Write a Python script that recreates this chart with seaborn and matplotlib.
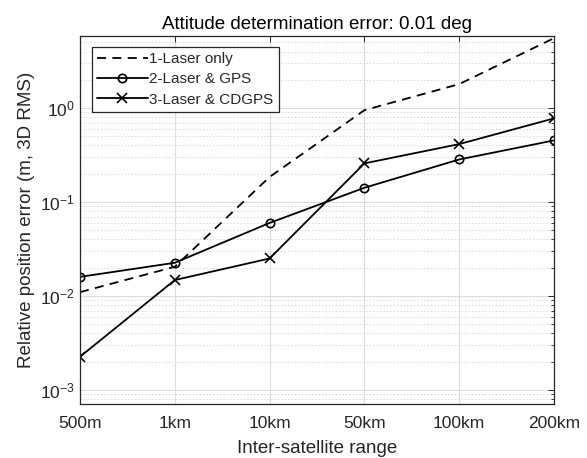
import matplotlib
matplotlib.use("Agg")
import matplotlib.pyplot as plt
import seaborn as sns
import numpy as np
import pandas as pd
from matplotlib.ticker import LogLocator, NullFormatter

categories = ["500m", "1km", "10km", "50km", "100km", "200km"]
laser_only = [0.011, 0.0205, 0.185, 0.95, 1.8, 5.55]
laser_gps = [0.016, 0.0226, 0.060, 0.142, 0.284, 0.453]
laser_cdgps = [0.00226, 0.0148, 0.0251, 0.258, 0.414, 0.777]
series_names = ["1-Laser only", "2-Laser & GPS", "3-Laser & CDGPS"]

sns.set_style("white")
plt.rcParams['font.family'] = ['Liberation Sans', 'DejaVu Sans']

x = np.arange(1, len(categories) + 1)
df = pd.DataFrame({
    "x": np.tile(x, 3),
    "y": laser_only + laser_gps + laser_cdgps,
    "series": np.repeat(series_names, len(categories)),
})

fig = plt.figure(figsize=(5.87, 4.58), dpi=100)
ax = fig.add_axes([80/587, 1 - 404/458, (554-80)/587, (404-36)/458])

styles = {
    "1-Laser only": dict(linestyle=(0, (5, 3.5)), marker=None, ms=7),
    "2-Laser & GPS": dict(linestyle="-", marker="o", ms=6),
    "3-Laser & CDGPS": dict(linestyle="-", marker="x", ms=7.5),
}
for name in series_names:
    sub = df[df["series"] == name]
    st = styles[name]
    sns.lineplot(data=sub, x="x", y="y", ax=ax, color="black", linewidth=1.3,
                 linestyle=st["linestyle"], marker=st["marker"],
                 markersize=st["ms"], markerfacecolor="none", markeredgecolor="black",
                 markeredgewidth=1.2, label=name)

ax.set_yscale("log")
ax.set_xlim(1, 6)
ax.set_ylim(7.1e-4, 5.85)
ax.set_xticks(x)
ax.set_xticklabels(categories)
ax.yaxis.set_major_locator(LogLocator(base=10, numticks=10))
ax.yaxis.set_minor_locator(LogLocator(base=10, subs=np.arange(2, 10), numticks=20))
ax.yaxis.set_minor_formatter(NullFormatter())

ax.grid(True, which="major", color="#dcdcdc", linewidth=0.8, linestyle="-")
ax.grid(True, which="minor", axis="y", color="#d8d8d8", linewidth=0.7, linestyle=(0, (1.5, 2)))
ax.set_axisbelow(True)

edge = "#262626"
for sp in ax.spines.values():
    sp.set_color(edge)
    sp.set_linewidth(0.9)
ax.tick_params(which="both", direction="in", top=True, right=True, colors=edge,
               labelcolor="#262626", labelsize=12.5)
ax.tick_params(which="major", length=4, width=0.7)
ax.tick_params(which="minor", length=2, width=0.6)
ax.tick_params(axis="x", pad=9)

ax.set_xlabel("Inter-satellite range", fontsize=13.5, color="#262626", labelpad=6)
ax.set_ylabel("Relative position error (m, 3D RMS)", fontsize=13.5, color="#262626", labelpad=4)
ax.set_title("Attitude determination error: 0.01 deg", fontsize=13.5, color="black", pad=5)

leg = ax.legend(loc="upper left", fontsize=11, frameon=True, fancybox=False,
                edgecolor="#262626", framealpha=1, handlelength=3.3,
                handletextpad=0.1, borderpad=0.35, labelspacing=0.4,
                borderaxespad=0, bbox_to_anchor=(0.025, 0.97))
leg.get_frame().set_linewidth(0.9)

fig.savefig("out.png", dpi=100)
